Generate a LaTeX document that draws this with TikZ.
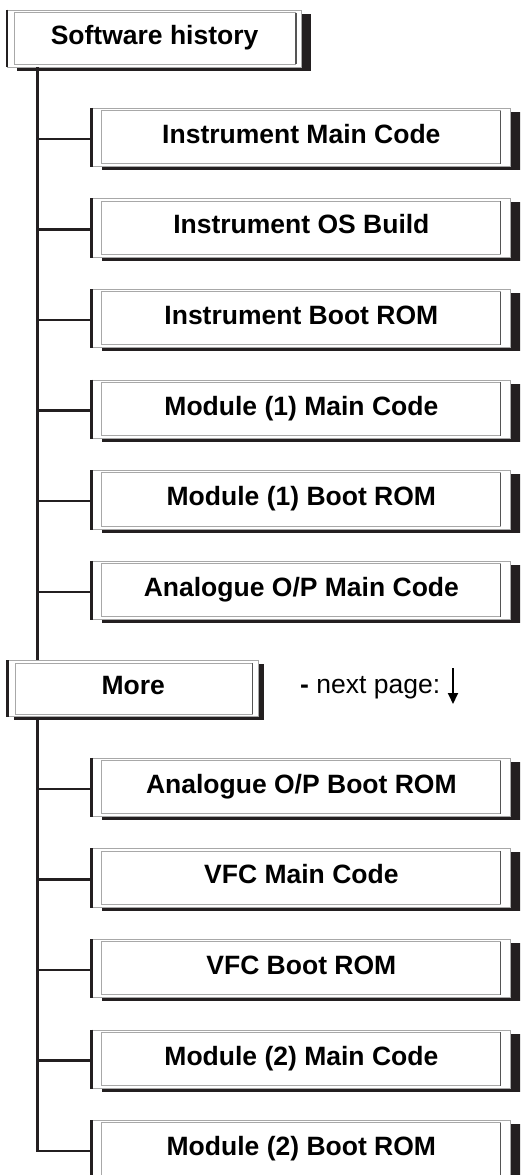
\documentclass[tikz,border=0pt]{standalone}
\usepackage{fontspec}
\setmainfont{Liberation Sans}
\usetikzlibrary{shadows,arrows.meta}
\definecolor{ink}{HTML}{231F20}
\definecolor{lgray}{HTML}{A8A8A8}
\definecolor{dgray}{HTML}{555555}
\begin{document}
\begin{tikzpicture}[x=1pt,y=-1pt,
  box/.style={draw=lgray, line width=0.9pt, fill=white, inner sep=0pt,
    text height=19pt, text depth=7.4pt,
    font=\fontsize{26.5}{30}\selectfont\bfseries},
  child/.style={box, minimum width=418.7pt, minimum height=58.4pt,
    drop shadow={shadow xshift=10pt, shadow yshift=-3.5pt, opacity=1, fill=ink}},
  rootbox/.style={box,
    drop shadow={shadow xshift=#1, shadow yshift=-3.5pt, opacity=1, fill=ink}},
  conn/.style={draw=ink, line width=2.5pt},
  inner/.style={draw=lgray, line width=1pt},
  innerright/.style={draw=dgray, line width=1.3pt},
  leftedge/.style={draw=ink, line width=2.8pt},
]
\useasboundingbox (0,0) rectangle (520,1175);
\clip (0,0) rectangle (520,1175);

% root boxes
\node[rootbox=9.5pt, minimum width=294.2pt, minimum height=57pt] (top) at (154.6,38.5) {Software history};
\node[rootbox=6pt, minimum width=250pt, minimum height=56pt] (more) at (133.3,688.7) {More};

% child boxes
\node[child] (c1) at (301.35,137.5) {Instrument Main Code};
\node[child] (c2) at (301.35,228.1) {Instrument OS Build};
\node[child] (c3) at (301.35,318.7) {Instrument Boot ROM};
\node[child] (c4) at (301.35,409.3) {Module (1) Main Code};
\node[child] (c5) at (301.35,499.9) {Module (1) Boot ROM};
\node[child] (c6) at (301.35,590.5) {Analogue O/P Main Code};
\node[child] (c7) at (301.35,787.5) {Analogue O/P Boot ROM};
\node[child] (c8) at (301.35,878.1) {VFC Main Code};
\node[child] (c9) at (301.35,968.7) {VFC Boot ROM};
\node[child] (c10) at (301.35,1059.3) {Module (2) Main Code};
\node[child] (c11) at (301.35,1149.9) {Module (2) Boot ROM};

% box decorations
\foreach \n in {c1,c2,c3,c4,c5,c6,c7,c8,c9,c10,c11}{
  \draw[inner] ([shift={(10pt,-2.7pt)}]\n.north west) rectangle ([shift={(-10.7pt,3.4pt)}]\n.south east);
  \draw[innerright] ([shift={(-10.7pt,-2.7pt)}]\n.north east) -- ([shift={(-10.7pt,3.4pt)}]\n.south east);
  \draw[leftedge] (\n.north west) -- (\n.south west);
}
\foreach \n in {top,more}{
  \draw[inner] ([shift={(7.3pt,-3pt)}]\n.north west) rectangle ([shift={(-6.3pt,3pt)}]\n.south east);
  \draw[innerright] ([shift={(-6.3pt,-3pt)}]\n.north east) -- ([shift={(-6.3pt,3pt)}]\n.south east);
  \draw[leftedge] (\n.north west) -- (\n.south west);
}

% trunk
\coordinate (tx) at (37.7,0);
\draw[conn] (top.south -| tx) -- (more.north -| tx);
\draw[conn] (more.south -| tx) -- ([yshift=-1.3pt]c11.west -| tx) -- ([yshift=-1.3pt]c11.west);
\foreach \n in {c1,c2,c3,c4,c5,c6,c7,c8,c9,c10}{
  \draw[conn] ([yshift=-1.3pt]\n.west -| tx) -- ([yshift=-1.3pt]\n.west);
}

% next page note
\node[anchor=base west, inner sep=0pt, font=\fontsize{26.5}{30}\selectfont] (np) at (300,693) {\textbf{-} next page:};
\coordinate (arrS) at (453,668);
\coordinate (arrE) at (453,704);
\draw[draw=black, line width=1.8pt, -{Triangle[width=10pt,length=11pt]}] (arrS) -- (arrE);
\end{tikzpicture}
\end{document}
